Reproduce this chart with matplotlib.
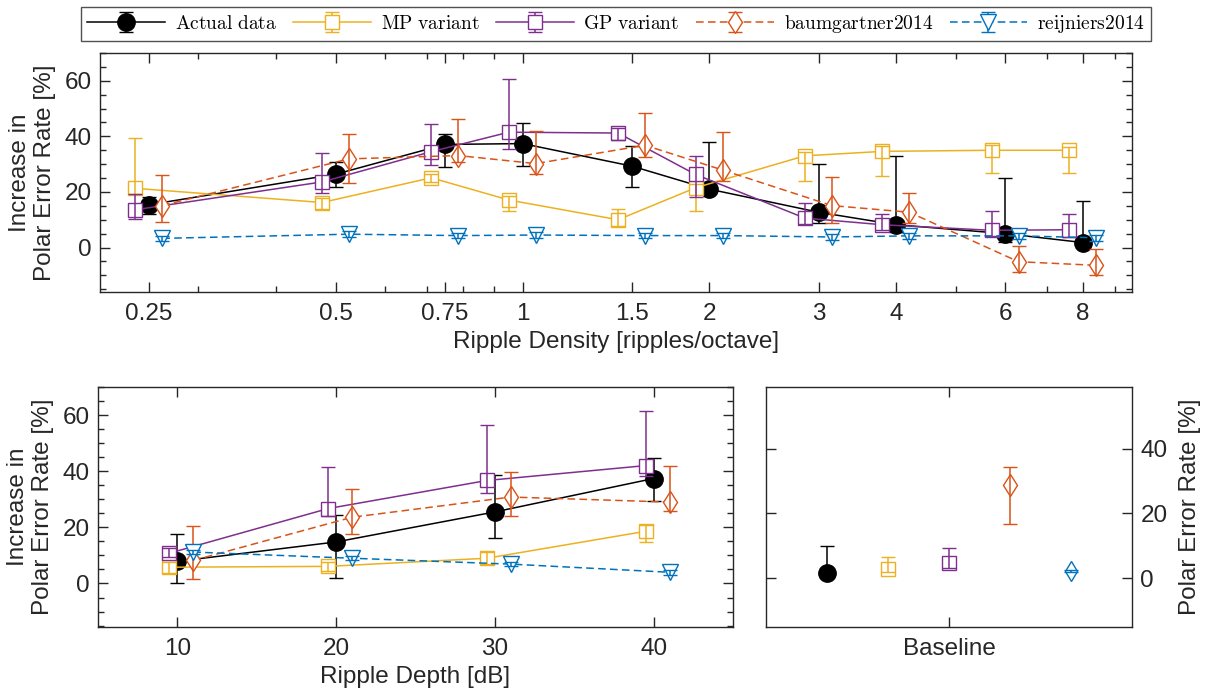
import numpy as np
import matplotlib.pyplot as plt
from matplotlib.ticker import FixedLocator, NullFormatter, MultipleLocator

plt.rcParams['font.family'] = ['Liberation Sans', 'DejaVu Sans']
plt.rcParams['mathtext.fontset'] = 'cm'

# ripple density panel
density = [0.25, 0.5, 0.75, 1, 1.5, 2, 3, 4, 6, 8]
density_ticks = [0.25, 0.5, 0.75, 1, 1.5, 2, 3, 4, 6, 8]
density_ticklabels = ['0.25', '0.5', '0.75', '1', '1.5', '2', '3', '4', '6', '8']

actual = [15.4, 26.4, 37.1, 37.4, 29.3, 21.0, 12.7, 8.2, 5.0, 1.8]
actual_lo = [3.2, 4.5, 8.0, 8.0, 7.4, 1.5, 3.9, 2.5, 3.0, 1.5]
actual_hi = [2.8, 4.5, 3.8, 7.5, 7.4, 16.9, 17.2, 24.7, 19.9, 15.0]

mp = [21.3, 16.2, 25.1, 17.1, 10.0, 21.5, 33.0, 34.6, 35.0, 35.0]
mp_lo = [2.0, 2.4, 1.5, 3.8, 2.1, 8.3, 9.0, 8.8, 8.3, 8.1]
mp_hi = [18.2, 1.5, 1.5, 1.5, 3.8, 1.5, 1.5, 1.9, 2.0, 1.0]

gp = [13.6, 23.6, 34.5, 41.5, 41.2, 26.3, 10.6, 8.2, 6.2, 6.4]
gp_lo = [3.2, 3.8, 4.9, 6.0, 2.4, 8.0, 2.0, 1.8, 2.2, 2.5]
gp_hi = [5.7, 10.4, 10.0, 19.1, 1.7, 6.8, 5.6, 3.7, 6.8, 5.7]

baum = [15.1, 31.9, 33.1, 30.2, 36.8, 27.9, 15.1, 12.7, -5.1, -6.4]
baum_lo = [5.9, 8.8, 2.3, 3.7, 4.4, 3.9, 6.2, 3.9, 3.7, 3.6]
baum_hi = [11.1, 8.9, 13.3, 11.9, 11.5, 13.5, 10.4, 6.8, 5.8, 5.7]

reij = [3.3, 4.8, 4.3, 4.5, 4.3, 4.3, 3.8, 4.2, 4.2, 3.5]
reij_err = [1.0, 1.0, 1.0, 1.0, 1.0, 1.0, 1.0, 1.0, 1.0, 1.0]

# ripple depth panel
depth = [10, 20, 30, 40]
actual_d = [7.9, 14.8, 25.5, 37.4]
actual_d_lo = [7.9, 12.9, 9.4, 7.9]
actual_d_hi = [9.8, 9.7, 13.2, 7.4]
mp_d = [5.8, 6.1, 9.0, 18.6]
mp_d_lo = [2.0, 1.5, 2.1, 3.8]
mp_d_hi = [2.0, 1.5, 2.2, 2.1]
gp_d = [10.8, 26.7, 36.7, 42.0]
gp_d_lo = [1.2, 2.8, 4.4, 3.8]
gp_d_hi = [1.8, 14.8, 19.6, 19.4]
baum_d = [8.2, 23.6, 30.8, 29.0]
baum_d_lo = [6.5, 6.0, 6.6, 3.3]
baum_d_hi = [12.2, 10.1, 9.0, 12.7]
reij_d = [11.2, 9.0, 6.9, 4.0]
reij_d_err = [0.8, 0.8, 0.8, 0.8]

# baseline panel (actual, MP, GP, baumgartner, reijniers)
base_vals = [1.5, 2.8, 4.8, 28.9, 2.3]
base_lo = [1.0, 0.8, 1.7, 12.0, 0.4]
base_hi = [8.5, 3.9, 4.6, 5.5, 0.4]

names = ['Actual data', 'MP variant', 'GP variant', 'baumgartner2014', 'reijniers2014']
colors = ['black', '#EDB120', '#7E2F8E', '#D95319', '#0072BD']
markers = ['o', 's', 's', 'd', 'v']
msizes = [12.5, 9.5, 9.5, 11.7, 12]
styles = ['-', '-', '-', '--', '--']

AXC = '#262626'


def series(ax, x, y, lo, hi, i, marker=None, ms=None):
    c = colors[i]
    m = marker if marker else markers[i]
    eb = ax.errorbar(x, y, yerr=[lo, hi], color=c, ecolor=c, marker=m,
                     ms=ms if ms else msizes[i],
                     mfc=c if i == 0 else 'white', mec=c, mew=1.0,
                     lw=1.1, elinewidth=1.1, capsize=5, capthick=1.1,
                     ls=styles[i], zorder=2 + i)
    line = eb.lines[0]
    if styles[i] == '--':
        line.set_dashes((5.0, 2.8))
    z = line.get_zorder()
    for a in list(eb.lines[1]) + list(eb.lines[2]):
        a.set_zorder(z + 0.05)
    return eb


def style_axes(ax):
    for s in ax.spines.values():
        s.set_color(AXC)
        s.set_linewidth(1.0)
    ax.tick_params(which='both', direction='in', top=True, right=True,
                   colors=AXC, labelcolor=AXC, labelsize=17.5, width=1.0)
    ax.tick_params(which='major', length=7, pad=6)
    ax.tick_params(which='minor', length=4)


fig = plt.figure(figsize=(12.05, 6.92), dpi=100)

# top panel
ax1 = fig.add_axes([100 / 1205, 1 - 292 / 692, 1032 / 1205, 239 / 692])
sq_shift = 0.95
rt_shift = 1.05
d = np.array(density)
handles = []
handles.append(series(ax1, d, actual, actual_lo, actual_hi, 0))
handles.append(series(ax1, d * sq_shift, mp, mp_lo, mp_hi, 1))
handles.append(series(ax1, d * sq_shift, gp, gp_lo, gp_hi, 2))
handles.append(series(ax1, d * rt_shift, baum, baum_lo, baum_hi, 3))
handles.append(series(ax1, d * rt_shift, reij, reij_err, reij_err, 4))
ax1.set_xscale('log')
ax1.set_xlim(0.25 / 1.2, 8 * 1.2)
ax1.set_ylim(-16, 70)
ax1.xaxis.set_major_locator(FixedLocator(density_ticks))
ax1.set_xticklabels(density_ticklabels)
ax1.xaxis.set_minor_locator(FixedLocator([0.3, 0.4, 0.6, 0.7, 0.8, 0.9, 5, 7, 9]))
ax1.xaxis.set_minor_formatter(NullFormatter())
ax1.yaxis.set_major_locator(FixedLocator([0, 20, 40, 60]))
ax1.yaxis.set_minor_locator(MultipleLocator(5))
style_axes(ax1)
ax1.tick_params(axis='x', which='major', pad=8)
ax1.set_xlabel('Ripple Density [ripples/octave]', fontsize=17.5, color=AXC, labelpad=4)
ax1.set_ylabel('Increase in\nPolar Error Rate [%]', fontsize=17.5, color=AXC, labelpad=6)

# bottom left panel
ax2 = fig.add_axes([98 / 1205, 65 / 692, 635 / 1205, 240 / 692])
dp = np.array(depth, dtype=float)
series(ax2, dp, actual_d, actual_d_lo, actual_d_hi, 0)
series(ax2, dp - 0.5, mp_d, mp_d_lo, mp_d_hi, 1)
series(ax2, dp - 0.5, gp_d, gp_d_lo, gp_d_hi, 2)
series(ax2, dp + 1, baum_d, baum_d_lo, baum_d_hi, 3)
series(ax2, dp + 1, reij_d, reij_d_err, reij_d_err, 4)
ax2.set_xlim(5, 45)
ax2.set_ylim(-15.5, 70)
ax2.set_xticks(depth)
ax2.yaxis.set_major_locator(FixedLocator([0, 20, 40, 60]))
ax2.yaxis.set_minor_locator(MultipleLocator(5))
style_axes(ax2)
ax2.tick_params(axis='x', which='major', pad=8)
ax2.set_xlabel('Ripple Depth [dB]', fontsize=17.5, color=AXC, labelpad=4)
ax2.set_ylabel('Increase in\nPolar Error Rate [%]', fontsize=17.5, color=AXC, labelpad=6)

# baseline panel
ax3 = fig.add_axes([766 / 1205, 65 / 692, 366 / 1205, 240 / 692])
base_marks = ['o', 's', 's', 'd', 'd']
base_ms = [12.5, 9.5, 9.5, 11.5, 10.5]
for i in range(5):
    series(ax3, [i - 2], [base_vals[i]], [base_lo[i]], [base_hi[i]], i,
           marker=base_marks[i], ms=base_ms[i])
ax3.set_xlim(-3, 3)
ax3.set_ylim(-15, 59)
ax3.set_xticks([0])
ax3.set_xticklabels(['Baseline'])
ax3.set_yticks([0, 20, 40])
style_axes(ax3)
ax3.tick_params(axis='y', labelleft=False, labelright=True)
ax3.tick_params(axis='x', which='major', pad=8)
ax3.yaxis.set_label_position('right')
ax3.set_ylabel('Polar Error Rate [%]', fontsize=17.5, color=AXC, labelpad=8)

labels = [r'$\mathrm{%s}$' % n.replace(' ', r'\ ') for n in names]
leg = fig.legend(handles, labels, loc='center', bbox_to_anchor=(616 / 1205, 1 - 24 / 692),
                 ncol=5, fontsize=14, frameon=True, fancybox=False,
                 handlelength=4.0, handletextpad=0.5, columnspacing=0.85,
                 borderpad=0.3, borderaxespad=0)
leg.get_frame().set_edgecolor(AXC)
leg.get_frame().set_linewidth(1.0)

fig.savefig('out.png', dpi=100)
